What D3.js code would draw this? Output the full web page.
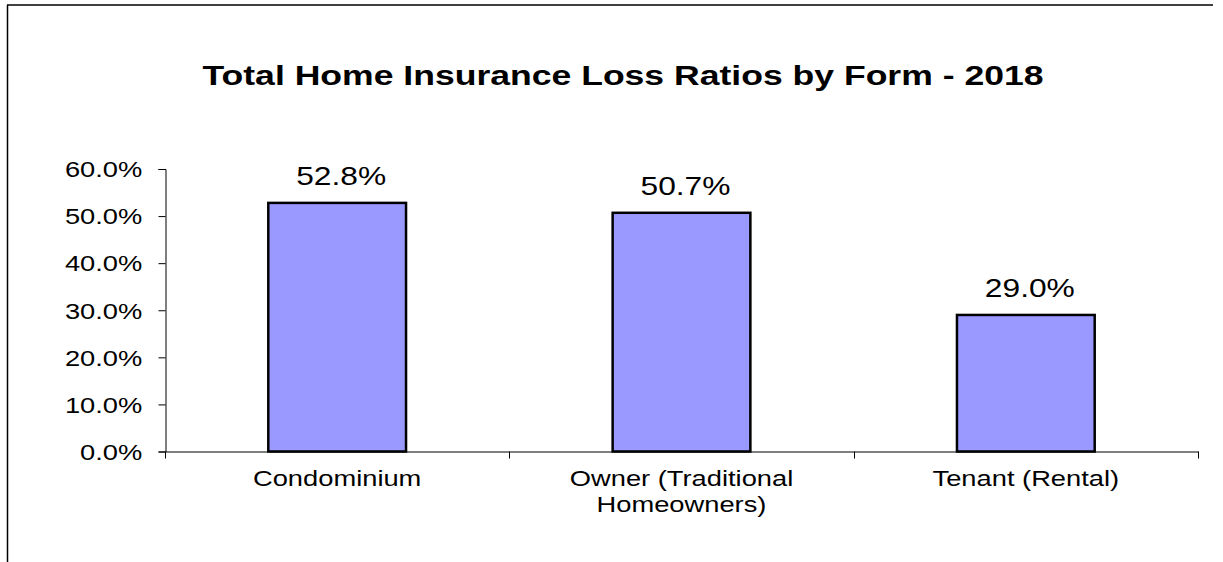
<!DOCTYPE html>
<html>
<head>
<meta charset="utf-8">
<script src="https://cdn.jsdelivr.net/npm/d3@7"></script>
<style>
  html, body { margin: 0; padding: 0; background: #fff; }
  svg { display: block; font-family: "Liberation Sans", Arial, sans-serif; }
</style>
</head>
<body>
<svg id="chart"></svg>
<script>
// chart data
const categories = ['Condominium', 'Owner (Traditional Homeowners)', 'Tenant (Rental)'];
const lossRatios = [52.8, 50.7, 29.0];
const yTicks = [0, 10, 20, 30, 40, 50, 60];
const title = 'Total Home Insurance Loss Ratios by Form - 2018';

window.addEventListener('load', () => {
    let width = 1223;
    let height = 562;
    let stretch = 1.27; // the original text is wider than it is tall

    let svg = d3.select('#chart')
                .attr('width', width)
                .attr('height', height);

    // frame: only top and left edges are visible in the original
    svg.append('line')
       .attr('x1', 7).attr('x2', 1213).attr('y1', 5).attr('y2', 5)
       .attr('stroke', '#000').attr('stroke-width', 1.5);
    svg.append('line')
       .attr('x1', 7.5).attr('x2', 7.5).attr('y1', 5).attr('y2', height)
       .attr('stroke', '#000').attr('stroke-width', 1.5);

    let stretchedText = (sel, x, y) => sel.attr('transform', `translate(${x},${y}) scale(${stretch},1)`);

    svg.append('text')
       .text(title)
       .attr('text-anchor', 'middle')
       .attr('font-size', 28)
       .attr('font-weight', 'bold')
       .call(stretchedText, 623, 85);

    let x = d3.scaleBand()
              .domain(categories)
              .range([165, 1198])
              .padding(0);

    let y = d3.scaleLinear()
              .domain([0, 60])
              .range([451.5, 169]);

    // y axis
    let yAxis = svg.append('g')
       .attr('transform', 'translate(165.5,0)')
       .call(d3.axisLeft(y)
               .tickValues(yTicks)
               .tickSize(7)
               .tickPadding(11)
               .tickFormat(d => d3.format('.1f')(d) + '%'));
    yAxis.select('.domain').attr('stroke', '#000');
    yAxis.selectAll('.tick line').attr('stroke', '#000');
    yAxis.selectAll('.tick text')
         .attr('font-size', 21.5)
         .attr('font-family', null)
         .attr('fill', '#000')
         .attr('dy', '0.36em')
         .attr('x', -18.3)
         .attr('transform', `scale(${stretch},1)`);

    // x axis: baseline with ticks at the category boundaries
    let xAxis = svg.append('g')
       .attr('transform', `translate(0,${y(0)})`)
       .call(d3.axisBottom(x).tickSize(0).tickFormat(''));
    xAxis.select('.domain').attr('stroke', '#000');
    let bounds = categories.map(c => x(c)).concat([x.range()[1]]);
    xAxis.selectAll('.bound')
         .data(bounds)
         .enter().append('line')
         .attr('class', 'bound')
         .attr('x1', d => Math.round(d) + 0.5)
         .attr('x2', d => Math.round(d) + 0.5)
         .attr('y1', 0)
         .attr('y2', 7)
         .attr('stroke', '#000');

    // bars
    let barWidth = x.bandwidth() * 0.4;
    let rows = categories.map((c, i) => ({ cat: c, value: lossRatios[i] }));

    svg.append('g')
       .selectAll('rect')
       .data(rows)
       .enter().append('rect')
       .attr('x', d => x(d.cat) + (x.bandwidth() - barWidth) / 2)
       .attr('y', d => y(d.value))
       .attr('width', barWidth)
       .attr('height', d => y(0) - y(d.value))
       .attr('fill', '#9999ff')
       .attr('stroke', '#000')
       .attr('stroke-width', 2.5);

    // value labels
    svg.append('g')
       .selectAll('text')
       .data(rows)
       .enter().append('text')
       .text(d => d3.format('.1f')(d.value) + '%')
       .attr('text-anchor', 'middle')
       .attr('font-size', 25)
       .each(function (d) {
           d3.select(this).call(stretchedText, x(d.cat) + x.bandwidth() / 2 + 4, y(d.value) - 18);
       });

    // category labels, wrapped like the original
    let catLabels = svg.append('g')
       .selectAll('text')
       .data(categories)
       .enter().append('text')
       .attr('text-anchor', 'middle')
       .attr('font-size', 21.5)
       .each(function (d) {
           d3.select(this).call(stretchedText, x(d) + x.bandwidth() / 2, 486);
       });

    catLabels.each(function (d) {
        let text = d3.select(this);
        let words = d.split(' ');
        let line = [];
        let lineNo = 0;
        let tspan = text.append('tspan').attr('x', 0).attr('y', 0);
        words.forEach(w => {
            line.push(w);
            tspan.text(line.join(' '));
            if (tspan.node().getComputedTextLength() * stretch > 300 && line.length > 1) {
                line.pop();
                tspan.text(line.join(' '));
                line = [w];
                lineNo++;
                tspan = text.append('tspan')
                            .attr('x', 0)
                            .attr('y', lineNo * 26.5)
                            .text(w);
            }
        });
    });
});
</script>
</body>
</html>
